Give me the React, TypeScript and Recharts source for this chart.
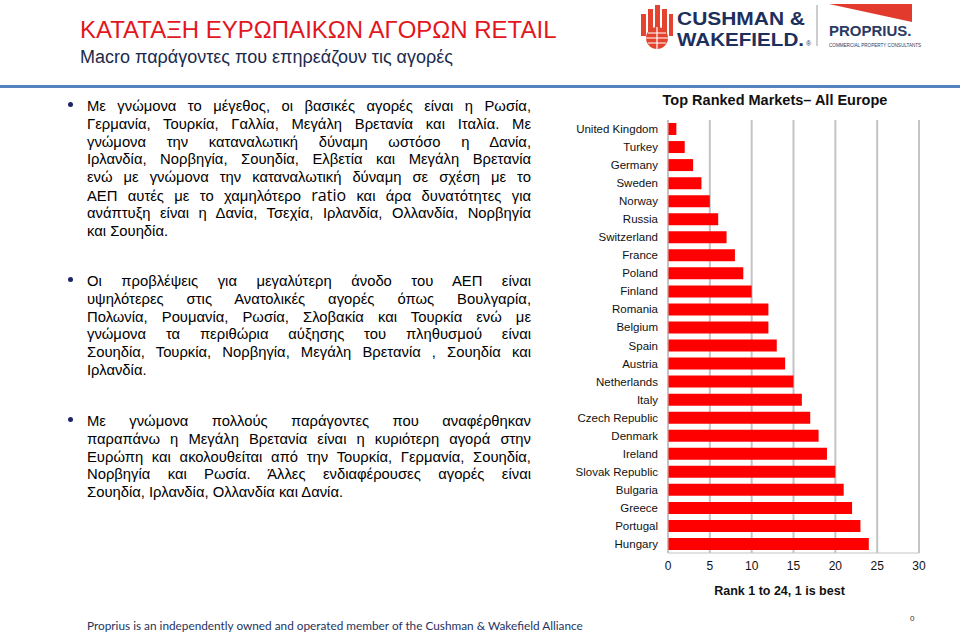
import React from 'react'
import { BarChart, Bar, XAxis, YAxis, CartesianGrid } from 'recharts'

// ranking per market, 1 = best
const countries = [
  'United Kingdom', 'Turkey', 'Germany', 'Sweden', 'Norway', 'Russia',
  'Switzerland', 'France', 'Poland', 'Finland', 'Romania', 'Belgium',
  'Spain', 'Austria', 'Netherlands', 'Italy', 'Czech Republic', 'Denmark',
  'Ireland', 'Slovak Republic', 'Bulgaria', 'Greece', 'Portugal', 'Hungary',
]
const ranks = [1, 2, 3, 4, 5, 6, 7, 8, 9, 10, 12, 12, 13, 14, 15, 16, 17, 18, 19, 20, 21, 22, 23, 24]
const rankTicks = [0, 5, 10, 15, 20, 25, 30]

const para1 = [
  'Με γνώμονα το μέγεθος, οι βασικές αγορές είναι η Ρωσία,',
  'Γερμανία, Τουρκία, Γαλλία, Μεγάλη Βρετανία και Ιταλία.  Με',
  'γνώμονα την καταναλωτική  δύναμη ωστόσο η Δανία,',
  'Ιρλανδία, Νορβηγία, Σουηδία, Ελβετία και Μεγάλη Βρετανία',
  'ενώ με γνώμονα την καταναλωτική δύναμη σε σχέση με το',
  'ΑΕΠ αυτές με το χαμηλότερο |ratio| και άρα δυνατότητες για',
  'ανάπτυξη είναι η Δανία, Τσεχία, Ιρλανδία, Ολλανδία, Νορβηγία',
  'και Σουηδία.',
]
const para2 = [
  'Οι προβλέψεις για μεγαλύτερη άνοδο του ΑΕΠ είναι',
  'υψηλότερες στις Ανατολικές αγορές όπως Βουλγαρία,',
  'Πολωνία, Ρουμανία, Ρωσία, Σλοβακία και Τουρκία ενώ με',
  'γνώμονα τα περιθώρια αύξησης του πληθυσμού είναι',
  'Σουηδία, Τουρκία, Νορβηγία, Μεγάλη Βρετανία , Σουηδία και',
  'Ιρλανδία.',
]
const para3 = [
  'Με γνώμονα πολλούς παράγοντες που αναφέρθηκαν',
  'παραπάνω η Μεγάλη Βρετανία είναι η κυριότερη αγορά στην',
  'Ευρώπη και ακολουθείται από την Τουρκία, Γερμανία, Σουηδία,',
  'Νορβηγία και Ρωσία. Άλλες ενδιαφέρουσες αγορές είναι',
  'Σουηδία, Ιρλανδία, Ολλανδία και Δανία.',
]

const sans = '"Liberation Sans", Arial, sans-serif'
const LH = 17.8

// "|word|" marks a word set in the slide's other (larger) font
function renderLine(l: string) {
  const parts = l.split('|')
  return parts.map((p, i) =>
    i % 2 === 1 ? (
      <span key={i} style={{ fontFamily: '"Open Sans", sans-serif', fontSize: 16 }}>{p}</span>
    ) : (
      <React.Fragment key={i}>{p}</React.Fragment>
    ),
  )
}

function Bullet({ lines, top }: { lines: string[]; top: number }) {
  return (
    <div style={{ position: 'absolute', left: 0, top, width: 960 }}>
      <div
        style={{
          position: 'absolute', left: 68, top: LH / 2 - 5, width: 5, height: 5,
          borderRadius: '50%', background: '#1c2566',
        }}
      />
      {lines.map((l, i) => (
        <div
          key={i}
          style={{
            position: 'absolute', left: 87, top: i * LH, width: 444, height: LH,
            lineHeight: `${LH}px`, fontSize: 14.8, color: '#000',
            textAlign: 'justify',
            textAlignLast: i === lines.length - 1 ? 'left' : 'justify',
          } as React.CSSProperties}
        >
          {renderLine(l)}
        </div>
      ))}
    </div>
  )
}

function Logos() {
  return (
    <svg style={{ position: 'absolute', left: 0, top: 0 }} width={960} height={60}>
      {/* building mark */}
      <g fill="#e4442f">
        <rect x={641} y={14} width={5} height={22} />
        <rect x={648} y={9} width={5} height={28} />
        <rect x={655} y={5} width={5} height={32} />
        <rect x={662} y={9} width={5} height={28} />
        <rect x={669} y={14} width={4} height={22} />
        <circle cx={657} cy={38} r={11} />
      </g>
      <g stroke="#fff" strokeWidth={1.2} fill="none">
        <path d="M646 38 H668 M648 33 H666 M648 43 H666 M657 27 V49" />
      </g>
      <text x={677} y={25} fontFamily={sans} fontWeight={700} fontSize={18} fill="#1d2f5c"
        textLength={128} lengthAdjust="spacingAndGlyphs">CUSHMAN &amp;</text>
      <text x={677} y={46} fontFamily={sans} fontWeight={700} fontSize={18} fill="#1d2f5c"
        textLength={127} lengthAdjust="spacingAndGlyphs">WAKEFIELD.</text>
      <text x={806} y={46} fontFamily={sans} fontSize={7} fill="#1d2f5c">®</text>
      <line x1={817} y1={5} x2={817} y2={46} stroke="#9a9a9a" strokeWidth={1} />
      <polygon points="829,4 912,4 912,22" fill="#e23b2e" />
      <text x={829} y={36} fontFamily={sans} fontWeight={700} fontSize={15} fill="#2b3a63">PROPRIUS.</text>
      <text x={829} y={47} fontFamily={sans} fontSize={4.6} fill="#2b3a63">COMMERCIAL PROPERTY CONSULTANTS</text>
    </svg>
  )
}

function CountryTick(props: any) {
  const { x, y, payload } = props
  return (
    <text x={x} y={y} dy={4} textAnchor="end" fill="#111" fontSize={11.5} fontFamily={sans}>
      {payload.value}
    </text>
  )
}

function RankChart() {
  const data = countries.map((c, i) => ({ country: c, rank: ranks[i] }))
  return (
    <div style={{ position: 'absolute', left: 560, top: 90 }}>
      <BarChart
        width={380}
        height={520}
        data={data}
        layout="vertical"
        margin={{ top: 30, right: 21, bottom: 7, left: 0 }}
        barSize={12}
      >
        <CartesianGrid horizontal={false} stroke="#c4c4c4" strokeWidth={2} />
        <XAxis
          type="number"
          domain={[0, 30]}
          ticks={rankTicks}
          height={50}
          stroke="#c4c4c4"
          tickLine={false}
          tick={{ fill: '#111', fontSize: 12, fontFamily: sans }}
          label={{
            value: 'Rank 1 to 24, 1 is best',
            position: 'insideBottom',
            offset: 8,
            dx: -14,
            fill: '#111',
            fontSize: 12.5,
            fontWeight: 700,
            fontFamily: sans,
          }}
        />
        <YAxis
          type="category"
          dataKey="country"
          width={108}
          stroke="#c4c4c4"
          tickLine={false}
          tickMargin={4}
          interval={0}
          tick={<CountryTick />}
        />
        <Bar dataKey="rank" fill="#ff0000" isAnimationActive={false} />
      </BarChart>
    </div>
  )
}

export default function App() {
  return (
    <div
      style={{
        position: 'absolute', left: 0, top: 0, width: 960, height: 636,
        background: '#fff', fontFamily: sans, overflow: 'hidden',
      }}
    >
      <div style={{ position: 'absolute', left: 80, top: 16, fontSize: 24, color: '#e2171d', whiteSpace: 'nowrap' }}>
        ΚΑΤΑΤΑΞΗ ΕΥΡΩΠΑΙΚΩΝ ΑΓΟΡΩΝ RETAIL
      </div>
      <div style={{ position: 'absolute', left: 80, top: 47, fontSize: 18, color: '#1b2a4c', whiteSpace: 'nowrap' }}>
        Macro παράγοντες που επηρεάζουν τις αγορές
      </div>
      <Logos />
      <div style={{ position: 'absolute', left: 0, top: 85, width: 960, height: 3, background: '#5283bf' }} />

      <Bullet lines={para1} top={107 - LH / 2} />
      <Bullet lines={para2} top={282 - LH / 2} />
      <Bullet lines={para3} top={422 - LH / 2} />

      <div
        style={{
          position: 'absolute', left: 560, width: 430, top: 92, textAlign: 'center',
          fontSize: 14.5, fontWeight: 700, color: '#111',
        }}
      >
        Top Ranked Markets– All Europe
      </div>
      <RankChart />

      <div
        style={{
          position: 'absolute', left: 87, top: 618, fontSize: 11.8, color: '#1f3460',
          fontFamily: 'Lato, sans-serif', whiteSpace: 'nowrap',
        }}
      >
        Proprius is an independently owned and operated member of the Cushman &amp; Wakefield Alliance
      </div>
      <div style={{ position: 'absolute', left: 910, top: 614, fontSize: 8, color: '#333' }}>0</div>
    </div>
  )
}
